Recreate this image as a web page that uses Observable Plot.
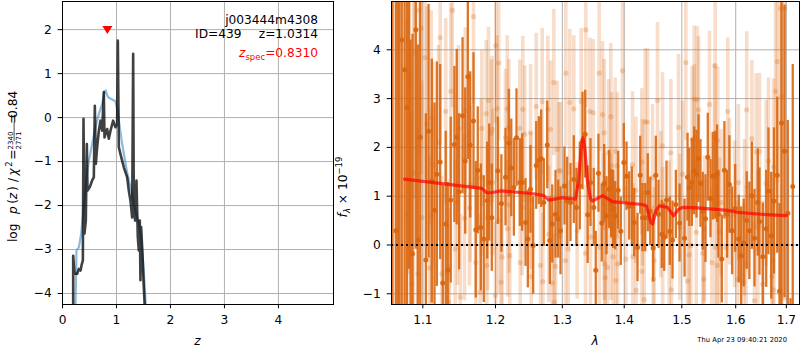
<!DOCTYPE html>
<html><head><meta charset="utf-8">
<script src="https://cdn.jsdelivr.net/npm/d3@7"></script>
<script src="https://cdn.jsdelivr.net/npm/@observablehq/plot@0.6"></script>
<style>
body{margin:0;background:#fff;}
#wrap{display:flex;width:800px;height:350px;overflow:hidden;}
#wrap svg{flex:none;}
</style></head><body><div id="wrap"></div>
<script>
// ---------- tick values ----------
const zTicks = [0, 1, 2, 3, 4];
const logpTicks = [-4, -3, -2, -1, 0, 1, 2];
const lamTicks = [1.1, 1.2, 1.3, 1.4, 1.5, 1.6, 1.7];
const fluxTicks = [-1, 0, 1, 2, 3, 4];

// ---------- left panel: p(z) ----------
const blueZ = [0.235,0.259,0.302,0.346,0.395,0.444,0.488,0.549,0.611,0.673,0.735,0.778,0.800,0.830,0.858,0.920,0.981,1.025,1.062,1.105,1.148,1.198,1.247,1.290,1.333,1.370,1.414,1.444,1.469,1.494,1.531,1.560];
const blueLogP = [-4.69,-3.02,-2.95,-2.64,-2.04,-1.36,-0.98,-0.60,-0.22,0.08,0.31,0.58,0.62,0.50,0.45,0.41,0.37,0.12,-0.22,-0.60,-0.90,-1.25,-1.51,-1.73,-2.04,-2.20,-2.40,-2.62,-2.90,-3.30,-4.00,-4.69];
const darkZ = [0.198,0.198,0.222,0.272,0.302,0.333,0.358,0.377,0.389,0.407,0.432,0.451,0.463,0.506,0.549,0.580,0.599,0.617,0.642,0.673,0.704,0.735,0.765,0.778,0.827,0.858,0.889,0.938,0.981,1.012,1.025,1.043,1.074,1.136,1.198,1.228,1.259,1.290,1.309,1.321,1.346,1.370,1.395,1.414,1.432,1.444,1.457,1.481,1.506,1.543];
const darkLogP = [-4.77,-3.14,-3.55,-3.55,-3.44,-3.48,-3.33,-3.25,-0.03,-2.64,-2.34,-0.60,-1.66,-1.58,-1.43,-1.36,0.27,-1.05,-0.67,-0.30,-0.07,-0.30,0.58,-0.45,-0.26,-0.48,-0.30,-0.07,-0.22,-0.14,1.75,-0.67,-0.83,-1.13,-1.36,-1.66,-1.89,-2.27,1.45,-2.04,-2.34,-1.43,-2.72,-3.02,-2.34,-3.70,-2.49,-3.10,-3.86,-4.77];
const zSpec = [0.831];
const zSpecMarkY = [2.0];

// ---------- right panel: spectrum (dark = grism A, light = grism B) ----------
const waveA = [1.0608,1.0650,1.0678,1.0697,1.0726,1.0762,1.0792,1.0820,1.0839,1.0865,
1.0908,1.0934,1.0966,1.1040,1.1076,1.1119,1.1155,1.1186,1.1231,1.1266,
1.1306,1.1333,1.1374,1.1424,1.1456,1.1489,1.1536,1.1573,1.1609,1.1642,
1.1688,1.1720,1.1748,1.1791,1.1833,1.1882,1.1910,1.1947,1.2033,1.2085,
1.2145,1.2193,1.2229,1.2267,1.2306,1.2355,1.2390,1.2440,1.2474,1.2514,
1.2554,1.2600,1.2639,1.2675,1.2715,1.2767,1.2807,1.2844,1.2894,1.2936,
1.2972,1.3034,1.3076,1.3128,1.3180,1.3222,1.3275,1.3318,1.3361,1.3400,
1.3446,1.3499,1.3531,1.3575,1.3629,1.3668,1.3706,1.3750,1.3783,1.3816,
1.3849,1.3899,1.3943,1.3993,1.4039,1.4084,1.4128,1.4169,1.4225,1.4271,
1.4310,1.4357,1.4401,1.4443,1.4494,1.4540,1.4587,1.4645,1.4687,1.4727,
1.4786,1.4834,1.4893,1.4960,1.5049,1.5103,1.5134,1.5181,1.5224,1.5266,
1.5303,1.5339,1.5381,1.5431,1.5474,1.5524,1.5566,1.5611,1.5648,1.5672,
1.5735,1.5785,1.5836,1.5880,1.5931,1.5990,1.6058,1.6104,1.6154,1.6212,
1.6264,1.6312,1.6364,1.6429,1.6462,1.6528,1.6595,1.6640,1.6695,1.6750,
1.6816,1.6862,1.6902,1.6963,1.7030,1.7085,1.7131];
const fluxA = [-2.0,0.29,6.0,-1.5,4.20,3.59,2.82,5.5,-1.8,-0.18,
4.41,0.10,2.21,-0.31,2.33,1.31,0.71,1.45,1.70,-0.78,
0.43,-0.52,0.92,2.06,2.21,1.09,2.65,1.72,3.45,2.05,
2.54,0.31,1.53,0.36,0.12,0.91,1.28,0.56,1.52,0.85,
1.39,2.09,1.58,1.18,2.20,1.28,1.28,0.46,0.12,1.14,
-0.01,1.63,1.73,1.77,0.87,2.05,0.09,0.43,0.63,0.53,
0.29,1.21,0.90,0.87,1.34,0.77,1.21,2.13,2.27,0.62,
1.28,0.77,-0.52,1.47,0.45,1.26,0.60,1.14,0.85,0.73,
0.60,1.12,0.28,1.69,1.41,0.80,0.80,0.46,-0.05,1.43,
0.56,0.56,1.07,0.69,-0.06,1.43,0.63,0.22,0.16,0.92,
0.28,0.10,0.83,0.45,0.14,1.39,1.18,1.28,1.52,1.45,
1.77,1.26,0.69,0.54,1.80,0.95,1.41,1.43,1.46,0.63,
-0.29,1.53,0.63,1.24,0.29,0.75,0.12,-0.22,0.04,0.50,
0.29,1.01,0.14,0.87,0.48,-0.24,0.33,1.10,0.19,0.90,
1.43,-0.95,2.5,1.92,0.65,-1.7,1.2];
const errA = [9,8,9,8,7,7,6,6,6,4.5,
4.5,4,3.5,3,2.6,2.5,2.2,2.3,2.0,2.0,
1.9,1.8,1.7,1.6,1.8,1.6,1.6,1.5,1.7,1.5,
1.4,1.4,1.3,1.3,1.3,1.2,1.2,1.1,1.1,1.0,
1.0,1.1,1.0,1.0,1.0,0.9,1.0,0.9,1.0,0.9,
1.0,0.9,0.9,1.0,0.9,0.9,0.9,0.8,0.9,0.8,
0.9,0.8,0.9,0.8,0.9,0.8,0.9,1.0,0.9,1.0,
0.9,0.8,0.8,0.8,0.8,0.8,0.8,0.8,0.7,0.8,
0.7,0.8,0.7,0.8,0.7,0.7,0.8,0.7,0.7,0.8,
0.7,0.7,0.8,0.7,0.7,0.8,0.7,0.7,0.7,0.8,
0.7,0.8,0.7,0.8,0.8,0.9,0.8,0.9,0.9,0.9,
0.9,0.9,0.8,0.9,0.9,0.8,0.9,0.9,1.0,0.9,
0.9,1.0,0.9,1.0,0.9,0.9,0.9,1.0,0.9,1.0,
1.0,1.1,1.0,1.1,1.1,1.1,1.2,1.3,1.3,1.5,
1.6,1.8,6,3,1.9,0.6,2.5];

const waveB = [1.0792,1.0822,1.0856,1.0878,1.0892,1.0934,1.0953,1.0979,1.0987,1.1032,
1.1053,1.1089,1.1111,1.1115,1.1132,1.1208,1.1231,1.1253,1.1306,1.1343,
1.1356,1.1374,1.1396,1.1434,1.1466,1.1480,1.1504,1.1563,1.1573,1.1632,
1.1642,1.1688,1.1720,1.1783,1.1797,1.1806,1.1868,1.1876,1.1886,1.1900,
1.1939,1.1953,1.1960,1.2000,1.2004,1.2024,1.2039,1.2047,1.2081,1.2095,
1.2145,1.2170,1.2175,1.2193,1.2198,1.2208,1.2355,1.2360,1.2390,1.2399,
1.2428,1.2514,1.2520,1.2525,1.2600,1.2665,1.2690,1.2700,1.2776,1.2791,
1.2818,1.2844,1.2869,1.2875,1.2894,1.2921,1.2946,1.2972,1.3050,1.3055,
1.3092,1.3117,1.3180,1.3233,1.3297,1.3366,1.3371,1.3435,1.3446,1.3489,
1.3586,1.3590,1.3641,1.3668,1.3672,1.3675,1.3684,1.3723,1.3739,1.3776,
1.3780,1.3793,1.3816,1.3849,1.3860,1.3887,1.3890,1.3972,1.4027,1.4140,
1.4145,1.4196,1.4200,1.4298,1.4300,1.4310,1.4340,1.4357,1.4396,1.4483,
1.4494,1.4512,1.4570,1.4628,1.4657,1.4660,1.4775,1.4804,1.4816,1.4941,
1.4965,1.5013,1.5072,1.5103,1.5134,1.5163,1.5188,1.5224,1.5230,1.5262,
1.5280,1.5303,1.5381,1.5399,1.5413,1.5505,1.5549,1.5598,1.5611,1.5615,
1.5648,1.5659,1.5691,1.5723,1.5816,1.5848,1.5880,1.5978,1.6039,1.6052,
1.6154,1.6169,1.6200,1.6212,1.6312,1.6364,1.6398,1.6429,1.6462,1.6528,
1.6595,1.6642,1.6707,1.6727,1.6741,1.6747,1.6782,1.6816,1.6882,1.6908,
1.6963];
const fluxB = [0.61,3.39,-0.80,1.48,3.93,-0.59,4.81,4.44,0.56,3.84,
2.48,-0.47,2.60,0.60,1.65,2.09,4.25,-0.59,2.74,-1.17,
-0.46,3.15,4.81,-0.08,0.87,2.39,-1.07,0.55,2.75,0.76,
1.24,4.68,-0.36,-0.97,1.38,2.39,2.69,-0.42,0.56,2.96,
2.29,2.37,1.28,-1.03,4.09,2.79,0.50,3.73,-0.76,-0.25,
2.20,2.79,0.33,2.40,0.82,-0.22,2.39,-0.36,0.77,2.78,
2.27,2.30,0.90,-0.65,2.84,-0.42,2.94,-0.75,2.78,0.22,
2.37,-0.78,3.33,-1.17,-0.44,1.96,1.52,1.52,-0.32,3.52,
-0.08,2.92,2.79,0.29,2.94,-0.17,4.41,2.74,0.16,2.71,
3.52,-0.05,2.67,2.30,0.36,-0.39,-0.67,-0.46,1.89,2.63,
0.36,1.62,-0.24,1.92,-0.73,1.62,-0.39,3.57,-0.29,1.64,
-0.24,1.12,-0.93,1.70,-0.54,1.07,-1.12,2.52,2.52,1.38,
-0.70,-0.32,2.96,0.83,2.03,0.09,0.22,1.89,-0.92,2.41,
0.36,1.45,3.74,-0.74,-0.20,-0.01,2.16,2.99,2.20,0.26,
2.98,2.77,-0.17,-0.70,0.33,2.88,-0.36,2.21,3.67,-0.05,
-0.42,2.14,0.28,0.87,-0.05,2.74,1.09,0.63,-0.70,1.28,
-0.76,0.56,-0.39,2.77,2.18,-1.14,1.91,-0.08,1.92,-0.80,
1.26,1.72,-0.65,-0.32,1.60,-0.92,3.15,3.76,4.85,3.05,
4.85];
const errB = [4,4,3.5,3.5,3,3,3,3,2.8,2.5,
2.4,2.3,2.2,2.2,2.1,2.0,2.2,2.0,1.9,1.9,
1.8,1.8,2.0,1.8,1.7,1.7,1.7,1.7,1.7,1.6,
1.6,1.8,1.6,1.6,1.6,1.6,1.5,1.5,1.5,1.5,
1.5,1.5,1.5,1.5,1.6,1.5,1.5,1.6,1.5,1.4,
1.4,1.5,1.4,1.4,1.4,1.4,1.4,1.4,1.4,1.5,
1.4,1.4,1.4,1.4,1.5,1.4,1.5,1.4,1.5,1.4,
1.4,1.4,1.5,1.4,1.4,1.4,1.4,1.4,1.4,1.5,
1.4,1.5,1.5,1.4,1.5,1.4,1.6,1.5,1.4,1.5,
1.6,1.5,1.5,1.5,1.5,1.5,1.5,1.5,1.5,1.5,
1.5,1.5,1.5,1.5,1.5,1.5,1.5,1.6,1.5,1.5,
1.5,1.5,1.5,1.5,1.5,1.5,1.5,1.5,1.5,1.5,
1.5,1.5,1.6,1.5,1.5,1.5,1.5,1.5,1.5,1.5,
1.5,1.5,1.6,1.5,1.5,1.5,1.5,1.5,1.5,1.5,
1.5,1.5,1.5,1.5,1.5,1.5,1.5,1.5,1.6,1.5,
1.5,1.5,1.5,1.5,1.5,1.5,1.5,1.5,1.6,1.6,
1.6,1.6,1.6,1.6,1.6,1.6,1.6,1.6,1.6,1.7,
1.7,1.7,1.8,1.8,1.8,1.8,2.2,2.5,6,6,
6];

// best-fit model
const modelWave = [1.0762,1.1806,1.1876,1.1939,1.2073,1.2563,1.2715,1.2791,1.2996,1.3206,1.3254,1.3294,1.3325,1.3357,1.3397,1.3446,1.3478,1.3641,1.3806,1.4310,1.4379,1.4453,1.4483,1.4540,1.4600,1.4746,1.4852,1.4941,1.5013,1.5285,1.5850,1.6041,1.6496,1.6998];
const modelFlux = [1.35,1.16,1.07,1.07,1.11,1.05,1.01,0.92,0.97,0.94,1.30,1.95,2.20,1.95,1.30,0.95,0.90,1.01,0.89,0.83,0.80,0.46,0.43,0.70,0.80,0.77,0.60,0.73,0.77,0.76,0.71,0.67,0.63,0.60];

// ---------- build ----------
const rows = (xs, ys, es) => xs.map((x, i) => ({x, y: ys[i], e: es ? es[i] : 0}));
const blueRows = rows(blueZ, blueLogP);
const darkRows = rows(darkZ, darkLogP);
const markRows = rows(zSpec, zSpecMarkY);
const specA = rows(waveA, fluxA, errA);
const specB = rows(waveB, fluxB, errB);
const modelRows = rows(modelWave, modelFlux);

const FONT = "DejaVu Sans, sans-serif";
const FS = 12.2;
const ORANGE = "#d9660f";
const GRID = {stroke: "#b0b0b0", strokeOpacity: 1, strokeWidth: 1};
const baseStyle = {fontFamily: FONT, fontSize: FS + "px", background: "white", color: "black", overflow: "visible"};

const triDown = {
  draw(ctx, size) {
    const r = Math.sqrt(size / Math.PI);
    ctx.moveTo(-r, -r * 0.72);
    ctx.lineTo(r, -r * 0.72);
    ctx.lineTo(0, r * 0.85);
    ctx.closePath();
  }
};

const left = Plot.plot({
  width: 340, height: 350,
  marginLeft: 62, marginRight: 7, marginTop: 1, marginBottom: 46,
  style: baseStyle,
  x: {domain: [0, 5.02]},
  y: {domain: [-4.25, 2.64]},
  marks: [
    Plot.gridX(zTicks, GRID),
    Plot.gridY(logpTicks, GRID),
    Plot.line(blueRows, {x: "x", y: "y", stroke: "#3f8cc6", strokeOpacity: 0.6, strokeWidth: 2.2, clip: true}),
    Plot.line(darkRows, {x: "x", y: "y", stroke: "black", strokeOpacity: 0.75, strokeWidth: 2.6, clip: true}),
    Plot.dot(markRows, {x: "x", y: "y", symbol: triDown, r: 5, fill: "red", stroke: "none"}),
    Plot.axisX(zTicks, {tickSize: 4.3, tickPadding: 7, label: null, tickFormat: d => String(d)}),
    Plot.axisY(logpTicks, {tickSize: 4.3, tickPadding: 6.5, label: null}),
    Plot.frame({stroke: "black", strokeWidth: 1})
  ]
});

const right = Plot.plot({
  width: 460, height: 350,
  marginLeft: 51, marginRight: 1, marginTop: 1, marginBottom: 46,
  style: baseStyle,
  x: {type: "log", domain: [1.0595, 1.727]},
  y: {domain: [-1.22, 4.99]},
  marks: [
    Plot.gridX(lamTicks, GRID),
    Plot.gridY(fluxTicks, GRID),
    Plot.ruleX(specB, {x: "x", y1: d => d.y - d.e, y2: d => d.y + d.e, stroke: ORANGE, strokeOpacity: 0.22, strokeWidth: 3.6, clip: true}),
    Plot.dot(specB, {x: "x", y: "y", r: 2.6, fill: ORANGE, fillOpacity: 0.25, stroke: "none", clip: true}),
    Plot.ruleX(specA, {x: "x", y1: d => d.y - d.e, y2: d => d.y + d.e, stroke: ORANGE, strokeOpacity: 0.9, strokeWidth: 2.3, clip: true}),
    Plot.dot(specA, {x: "x", y: "y", r: 2.5, fill: ORANGE, fillOpacity: 0.95, stroke: "none", clip: true}),
    Plot.ruleY([0], {stroke: "black", strokeWidth: 2, strokeDasharray: "2,3"}),
    Plot.line(modelRows, {x: "x", y: "y", stroke: "red", strokeOpacity: 0.7, strokeWidth: 3.2, clip: true}),
    Plot.axisX(lamTicks, {tickSize: 4.3, tickPadding: 7, label: null, tickFormat: d => d.toFixed(1)}),
    Plot.axisY(fluxTicks, {tickSize: 4.3, tickPadding: 6.5, label: null, tickFormat: d => d3.format("d")(d)}),
    Plot.frame({stroke: "black", strokeWidth: 1})
  ]
});

const wrap = document.getElementById("wrap");
wrap.append(left, right);

// ---------- annotations (left) ----------
const L = d3.select(left);
const ann = L.append("g").attr("font-family", FONT).attr("font-size", FS).attr("fill", "black");
ann.append("text").attr("x", 318).attr("y", 23.5).attr("text-anchor", "end").text("j003444m4308");
ann.append("text").attr("x", 241.5).attr("y", 37.5).attr("text-anchor", "end").text("ID=439");
ann.append("text").attr("x", 318).attr("y", 37.5).attr("text-anchor", "end").text("z=1.0314");
const zs = ann.append("text").attr("x", 318).attr("y", 57).attr("text-anchor", "end").attr("fill", "red");
zs.append("tspan").attr("font-style", "italic").text("z");
zs.append("tspan").attr("font-size", 8.5).attr("dy", 2.5).text("spec");
zs.append("tspan").attr("dy", -2.5).text("=0.8310");

// x label left
L.append("text").attr("x", 197.5).attr("y", 344.5).attr("text-anchor", "middle")
  .attr("font-family", FONT).attr("font-size", FS).attr("font-style", "italic").text("z");

// y label left (rotated, with stacked fraction) – laid out sequentially by measured widths
const yl = L.append("g").attr("font-family", FONT).attr("font-size", FS).attr("fill", "black");
const inner = yl.append("g");
let cx = 0;
const put = (txt, opts = {}) => {
  const t = inner.append("text").attr("x", cx).attr("y", opts.y || 0).text(txt);
  if (opts.italic) t.attr("font-style", "italic");
  if (opts.size) t.attr("font-size", opts.size);
  cx += t.node().getComputedTextLength() + (opts.gap || 0);
  return t;
};
put("log", {gap: 4});
put("p", {italic: true, gap: 1});
put("(", {gap: 0.5});
put("z", {italic: true, gap: 1});
put(")", {gap: 4});
put("/", {gap: 4});
put("χ", {italic: true, gap: 0.5});
put("2", {size: 8.5, y: -5, gap: 4});
put("=", {gap: 3.5});
{
  const num = inner.append("text").attr("font-size", 7).attr("y", -3.6).text("2340");
  const den = inner.append("text").attr("font-size", 7).attr("y", 4.3).text("2771");
  const wn = num.node().getComputedTextLength(), wd = den.node().getComputedTextLength();
  const wf = Math.max(wn, wd) + 1;
  num.attr("x", cx + (wf - wn) / 2); den.attr("x", cx + (wf - wd) / 2);
  inner.append("line").attr("x1", cx).attr("x2", cx + wf).attr("y1", -2.4).attr("y2", -2.4)
    .attr("stroke", "black").attr("stroke-width", 0.7);
  cx += wf + 3.5;
}
put("=", {gap: 4});
put("0.84");
const totalW = cx;
inner.attr("transform", `translate(${-totalW / 2},0)`);
yl.attr("transform", "translate(16.5,155) rotate(-90)");

// ---------- annotations (right) ----------
const R = d3.select(right);
R.append("text").attr("x", 255).attr("y", 344.5).attr("text-anchor", "middle")
  .attr("font-family", FONT).attr("font-size", FS).attr("font-style", "italic").text("λ");
const yr = R.append("g").attr("transform", "translate(7,187) rotate(-90)")
  .attr("font-family", FONT).attr("font-size", FS).attr("fill", "black");
const yrt = yr.append("text").attr("x", 0).attr("y", 0);
yrt.append("tspan").attr("font-style", "italic").text("f");
yrt.append("tspan").attr("font-style", "italic").attr("font-size", 8.5).attr("dy", 2.5).text("λ");
yrt.append("tspan").attr("dy", -2.5).text(" × 10");
yrt.append("tspan").attr("font-size", 8.5).attr("dy", -5).text("−19");
R.append("text").attr("x", 447).attr("y", 341.5).attr("text-anchor", "end")
  .attr("font-family", FONT).attr("font-size", 6.8).text("Thu Apr 23 09:40:21 2020");
</script></body></html>
